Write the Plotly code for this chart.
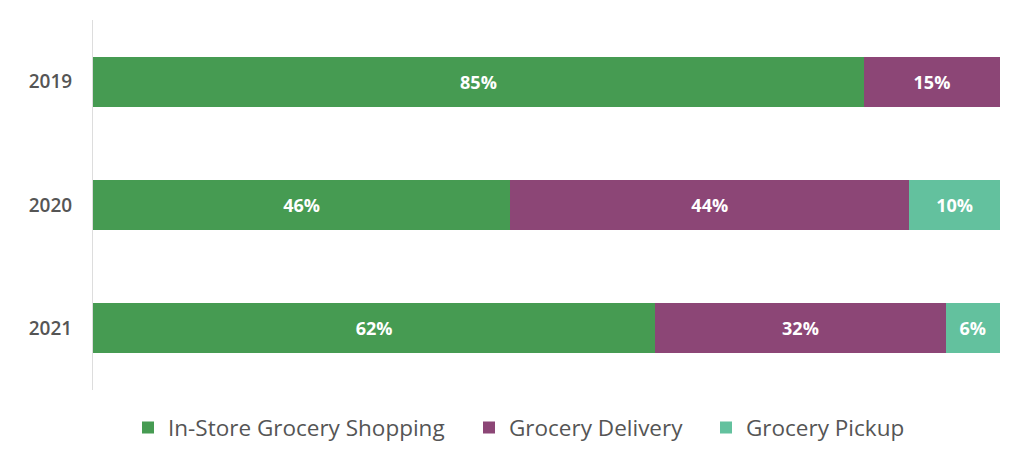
import plotly.graph_objects as go

years = ["2019", "2020", "2021"]
in_store = [85, 46, 62]
delivery = [15, 44, 32]
pickup = [0, 10, 6]
series_names = ["In-Store Grocery Shopping", "Grocery Delivery", "Grocery Pickup"]
colors = ["#469b52", "#8c4676", "#63c19e"]
legend_ids = ["legend", "legend2", "legend3"]
legend_x = [120, 461, 698]  # figure px, left edge of each legend item

fig = go.Figure()
for name, vals, col, lg in zip(series_names, [in_store, delivery, pickup], colors, legend_ids):
    fig.add_trace(go.Bar(
        y=years, x=vals, name=name, orientation="h",
        marker=dict(color=col, line=dict(width=0)),
        text=[f"{v}%" if v > 0 else "" for v in vals],
        textposition="inside", insidetextanchor="middle",
        textfont=dict(color="white", size=18, family="Open Sans", weight=700),
        width=0.405, legend=lg,
    ))

legend_style = dict(orientation="h", xref="container", xanchor="left",
                    yref="container", y=0.083, yanchor="middle",
                    font=dict(size=22.5, color="#555555", family="Open Sans"),
                    itemwidth=30)

fig.update_layout(
    barmode="stack",
    width=1024, height=458,
    margin=dict(l=85, r=32, t=12, b=76, autoexpand=False),
    plot_bgcolor="white", paper_bgcolor="white",
    font=dict(family="Open Sans", color="#555555"),
    uniformtext=dict(mode=False),
    xaxis=dict(range=[0, 100], visible=False, showgrid=False, zeroline=False),
    yaxis=dict(autorange="reversed", showline=True, linecolor="#dddddd", linewidth=1,
               showgrid=False, ticks="", ticklabelstandoff=16,
               tickfont=dict(size=19, color="#555555", family="Open Sans", weight=600)),
    legend=dict(x=legend_x[0] / 1024, **legend_style),
    legend2=dict(x=legend_x[1] / 1024, **legend_style),
    legend3=dict(x=legend_x[2] / 1024, **legend_style),
    showlegend=True,
)
fig.write_html("out.html")
